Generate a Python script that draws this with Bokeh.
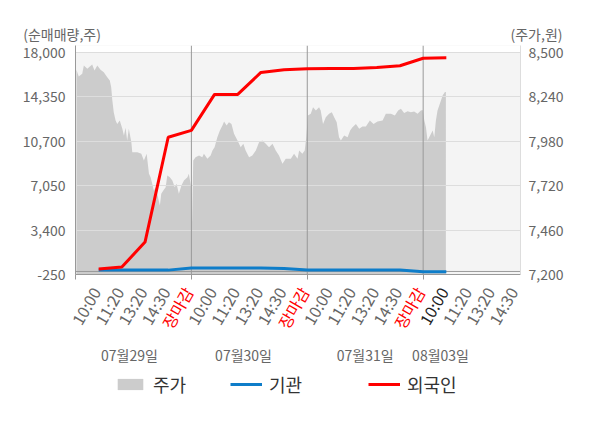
import math
from bokeh.plotting import figure
from bokeh.layouts import column
from bokeh.models import (Range1d, LinearAxis, FixedTicker, NumeralTickFormatter, Span,
                          BoxAnnotation, ColumnDataSource, Legend, LegendItem)
from bokeh.core.properties import value
from bokeh.embed import file_html
from bokeh.resources import INLINE

FONT = "Noto Sans CJK KR"

# ---------------- data ----------------
tick_labels = ["10:00", "11:20", "13:20", "14:30", "장마감"] * 3 + ["10:00", "11:20", "13:20", "14:30"]
dates = ["07월29일", "07월30일", "07월31일", "08월03일"]
left_ticks = [-250, 3400, 7050, 10700, 14350, 18000]
right_ticks = [7200, 7460, 7720, 7980, 8240, 8500]

# net buying (shares) at each time slot (1..16)
flow_t = list(range(1, 17))
foreign = [200, 365, 2415, 11030, 11600, 14555, 14555, 16360, 16580, 16660,
           16680, 16690, 16770, 16910, 17530, 17565]
institution = [120, 120, 110, 110, 290, 290, 290, 290, 250, 120,
               120, 120, 120, 110, -20, -30]

# stock price (won), intraday
price_t_d1 = [0.04, 0.14, 0.29, 0.36, 0.51, 0.62, 0.72, 0.82, 0.94, 1.08, 1.22, 1.37, 1.48, 1.54,
              1.59, 1.65, 1.73, 1.80, 1.91, 2.02, 2.09, 2.16, 2.23, 2.30, 2.41, 2.45, 2.67, 2.84,
              2.95, 3.07, 3.17, 3.24, 3.31, 3.38, 3.46, 3.56, 3.64, 3.70, 3.79, 3.89, 3.96, 4.07,
              4.18, 4.28, 4.36, 4.46, 4.57, 4.68, 4.83, 4.89, 4.99]
price_d1 = [8399, 8359, 8375, 8424, 8405, 8418, 8430, 8395, 8424, 8399, 8385, 8355, 8336, 8297,
            8219, 8150, 8102, 8082, 8102, 8053, 8014, 8059, 7985, 8053, 7975, 7916, 7916, 7907,
            7868, 7907, 7790, 7770, 7731, 7692, 7711, 7653, 7604, 7673, 7692, 7711, 7780, 7770,
            7750, 7711, 7731, 7673, 7721, 7750, 7770, 7790, 7711]
price_t_d2 = [5.03, 5.08, 5.18, 5.33, 5.47, 5.54, 5.69, 5.83, 5.91, 6.00, 6.12, 6.23, 6.34, 6.41,
              6.52, 6.62, 6.73, 6.84, 6.99, 7.13, 7.24, 7.34, 7.49, 7.63, 7.78, 7.92, 8.06, 8.21,
              8.35, 8.50, 8.64, 8.78, 8.93, 9.07, 9.29, 9.43, 9.58, 9.65, 9.79, 9.89, 9.95]
price_d2 = [7506, 7868, 7887, 7897, 7887, 7907, 7878, 7897, 7926, 7945, 8004, 8043, 8073, 8096,
            8073, 8092, 8082, 8024, 7985, 7945, 7965, 7926, 7887, 7897, 7926, 7975, 7985, 7965,
            7945, 7965, 7926, 7897, 7848, 7878, 7878, 7907, 7878, 7926, 7907, 7926, 7995]
price_t_d3 = [10.03, 10.15, 10.25, 10.37, 10.51, 10.58, 10.68, 10.80, 10.94, 11.06, 11.16, 11.27,
              11.37, 11.45, 11.59, 11.74, 11.85, 11.95, 12.10, 12.24, 12.38, 12.53, 12.70, 12.86,
              13.03, 13.25, 13.39, 13.61, 13.78, 13.92, 14.04, 14.18, 14.33, 14.47, 14.61, 14.76,
              14.90, 14.98]
price_d3 = [8131, 8141, 8180, 8160, 8180, 8160, 8082, 8121, 8141, 8150, 8121, 8092,
            8004, 7985, 8014, 8004, 8043, 8063, 8082, 8053, 8067, 8067, 8102, 8082,
            8096, 8102, 8141, 8141, 8131, 8160, 8170, 8145, 8156, 8150, 8155, 8141,
            8160, 8164]
price_t_d4 = [15.05, 15.12, 15.19, 15.30, 15.41, 15.48, 15.55, 15.62, 15.72, 15.84, 15.94, 15.98]
price_d4 = [8102, 8063, 7985, 8014, 8043, 8004, 8102, 8160, 8200, 8248, 8268, 8268]

price_t = price_t_d1 + price_t_d2 + price_t_d3 + price_t_d4
price = price_d1 + price_d2 + price_d3 + price_d4

# ---------------- layout constants ----------------
W = 584
TOP_H, MAIN_TOP, MAIN_FRAME_H, MAIN_BOTTOM = 43, 2, 229, 9
BOT_H = 412 - TOP_H - MAIN_TOP - MAIN_FRAME_H - MAIN_BOTTOM
LEFT_B, RIGHT_B = 75, 64
X0, X1 = 0, 19.2
day_bounds = [0, 5, 10, 15]
date_x = [2.33, 7.25, 12.5, 15.75]
RED = "#ff0000"
BLUE = "#0e7dc9"
GRAY_AREA = "#cccccc"
TXT = "#666666"

# ---------------- top strip (unit captions) ----------------
top = figure(width=W, height=TOP_H, x_range=Range1d(0, W), y_range=Range1d(0, TOP_H),
             x_axis_type=None, y_axis_type=None, output_backend="svg", toolbar_location=None,
             min_border=0, frame_align=False)
top.outline_line_color = None
top.grid.visible = False
top.text(x=[22.7], y=[9.5], text=["(순매매량,주)"], text_align="left", text_baseline="middle",
         text_font=value(FONT), text_font_size="14px", text_color=TXT)
top.text(x=[562], y=[9.5], text=["(주가,원)"], text_align="right", text_baseline="middle",
         text_font=value(FONT), text_font_size="14px", text_color=TXT)

# ---------------- main chart ----------------
p = figure(width=W, height=MAIN_TOP + MAIN_FRAME_H + MAIN_BOTTOM, output_backend="svg",
           toolbar_location=None, x_range=Range1d(X0, X1), y_range=Range1d(-250, 18575),
           min_border_left=LEFT_B, min_border_right=RIGHT_B, min_border_top=MAIN_TOP,
           min_border_bottom=MAIN_BOTTOM, frame_align=False)
p.extra_y_ranges = {"price": Range1d(7200, 8541)}
p.background_fill_color = "#f4f4f4"
p.border_fill_color = "white"
p.outline_line_color = None

p.add_layout(BoxAnnotation(bottom=18000, fill_color="white", fill_alpha=1.0,
                           line_color=None, level="image"))

p.xgrid.visible = False
p.ygrid.ticker = FixedTicker(ticks=left_ticks)
p.ygrid.grid_line_color = "#dddddd"
p.ygrid.level = "underlay"

area = p.varea(x=price_t, y1=7200, y2=price, y_range_name="price",
               fill_color=GRAY_AREA, level="image")

p.add_layout(Span(location=0, dimension="width", line_color="#999999", line_width=1, level="underlay"))
for b in day_bounds[1:]:
    p.add_layout(Span(location=b, dimension="height", line_color="#999999", line_width=1,
                      level="underlay"))

p.line(flow_t, institution, line_color=BLUE, line_width=3)
p.line(flow_t, foreign, line_color=RED, line_width=3)

ya = p.yaxis[0]
ya.ticker = FixedTicker(ticks=left_ticks)
ya.formatter = NumeralTickFormatter(format="0,0")
ya.axis_line_color = "#999999"
ya.major_tick_line_color = None
ya.minor_tick_line_color = None
ya.major_tick_out = 0
ya.major_tick_in = 0
ya.major_label_standoff = 10
ya.major_label_text_font = FONT
ya.major_label_text_font_size = "14px"
ya.major_label_text_color = TXT

ra = LinearAxis(y_range_name="price", ticker=FixedTicker(ticks=right_ticks),
                formatter=NumeralTickFormatter(format="0,0"))
ra.axis_line_color = "#dddddd"
ra.major_tick_line_color = None
ra.minor_tick_line_color = None
ra.major_tick_out = 0
ra.major_tick_in = 0
ra.major_label_standoff = 8
ra.major_label_text_font = FONT
ra.major_label_text_font_size = "14px"
ra.major_label_text_color = TXT
p.add_layout(ra, "right")

xa = p.xaxis[0]
xa.ticker = FixedTicker(ticks=[], minor_ticks=day_bounds)
xa.axis_line_color = "#999999"
xa.major_tick_line_color = None
xa.major_tick_out = 0
xa.major_label_standoff = 0
xa.major_label_text_font_size = "0px"
xa.minor_tick_line_color = "#999999"
xa.minor_tick_out = 5
xa.minor_tick_in = 0

# ---------------- bottom strip (time labels, dates, legend) ----------------
scale = (X1 - X0) / (W - LEFT_B - RIGHT_B)
bot = figure(width=W, height=BOT_H,
             x_range=Range1d(X0 - LEFT_B * scale, X1 + RIGHT_B * scale),
             y_range=Range1d(0, BOT_H), x_axis_type=None, y_axis_type=None,
             output_backend="svg", toolbar_location=None, min_border=0, frame_align=False)
bot.outline_line_color = None
bot.grid.visible = False

colors = []
for i, t in enumerate(tick_labels):
    if t == "장마감":
        colors.append(RED)
    elif i == 15:
        colors.append("#222222")
    else:
        colors.append(TXT)
lab_src = ColumnDataSource(dict(x=[i + 1 for i in range(len(tick_labels))],
                                text=tick_labels, color=colors))
bot.text(x="x", y=BOT_H - 5, text="text", source=lab_src, angle=math.pi / 3,
         text_align="right", text_baseline="middle", x_offset=-3, text_color="color",
         text_font=value(FONT), text_font_size="16px")

bot.text(x=date_x, y=[BOT_H - 71] * len(dates), text=dates, text_align="center",
         text_baseline="middle", text_font=value(FONT), text_font_size="14px", text_color=TXT)

# legend swatches: proxy renderers parked below the visible strip
px = [X0, X1]
r_area = bot.varea(x=px, y1=[-50, -50], y2=[-40, -40], fill_color=GRAY_AREA)
r_inst = bot.line(x=px, y=[-50, -50], line_color=BLUE, line_width=3)
r_forn = bot.line(x=px, y=[-50, -50], line_color=RED, line_width=3)
for lbl, r, xloc in [("주가", r_area, 114), ("기관", r_inst, 230), ("외국인", r_forn, 368)]:
    lg = Legend(items=[LegendItem(label=lbl, renderers=[r])], location=(xloc, 15),
                orientation="horizontal", padding=0, margin=0, spacing=0,
                glyph_width=32, glyph_height=14, label_standoff=7,
                label_text_font=FONT, label_text_font_size="18px", label_text_color="#333333",
                background_fill_alpha=0, border_line_color=None)
    bot.add_layout(lg)

layout = column(top, p, bot, spacing=0)
open("out.html", "w").write(file_html(layout, INLINE))
